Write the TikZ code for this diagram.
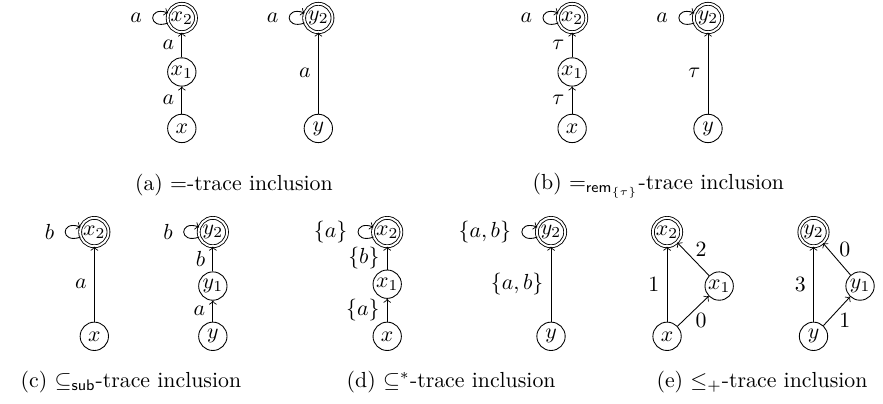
\documentclass[tikz,border=0pt]{standalone}
\usepackage{amsmath,amssymb}
\begin{document}
\begin{tikzpicture}[
  state/.style={circle,draw,inner sep=0pt,minimum size=13pt},
  final/.style={state,double,double distance=0.9pt},
  selfloop/.style={out=200,in=160,min distance=3.5mm,looseness=1},
  looplabel/.style={left=1.5pt}]
\useasboundingbox (0,0) rectangle (14.23,6.50);

% (a)
\node[final] (ax2) at (2.93,6.21) {$x_2$};
\node[state] (ax1) at (2.93,5.34) {$x_1$};
\node[state] (ax) at (2.93,4.43) {$x$};
\node[final] (ay2) at (5.13,6.21) {$y_2$};
\node[state] (ay) at (5.13,4.43) {$y$};
\path[->] (ax) edge node[left] {$a$} (ax1)
  (ax1) edge node[left] {$a$} (ax2)
  (ax2) edge[selfloop] node[looplabel] {$a$} (ax2)
  (ay) edge node[left] {$a$} (ay2)
  (ay2) edge[selfloop] node[looplabel] {$a$} (ay2);
\node (capa) at (3.77,3.51) {(a) $=$-trace inclusion};

% (b)
\node[final] (bx2) at (9.22,6.21) {$x_2$};
\node[state] (bx1) at (9.22,5.34) {$x_1$};
\node[state] (bx) at (9.22,4.43) {$x$};
\node[final] (by2) at (11.41,6.21) {$y_2$};
\node[state] (by) at (11.41,4.43) {$y$};
\path[->] (bx) edge node[left] {$\tau$} (bx1)
  (bx1) edge node[left] {$\tau$} (bx2)
  (bx2) edge[selfloop] node[looplabel] {$a$} (bx2)
  (by) edge node[left] {$\tau$} (by2)
  (by2) edge[selfloop] node[looplabel] {$a$} (by2);
\node (capb) at (10.61,3.51) {(b) $=_{\mathsf{rem}_{\{\tau\}}}$-trace inclusion};

% (c)
\node[final] (cx2) at (1.52,2.76) {$x_2$};
\node[state] (cx) at (1.52,1.08) {$x$};
\node[final] (cy2) at (3.43,2.76) {$y_2$};
\node[state] (cy1) at (3.43,1.89) {$y_1$};
\node[state] (cy) at (3.43,1.08) {$y$};
\path[->] (cx) edge node[left] {$a$} (cx2)
  (cx2) edge[selfloop] node[looplabel] {$b$} (cx2)
  (cy) edge node[left] {$a$} (cy1)
  (cy1) edge node[left] {$b$} (cy2)
  (cy2) edge[selfloop] node[looplabel] {$b$} (cy2);
\node (capc) at (2.11,0.34) {(c) $\subseteq_{\mathsf{sub}}$-trace inclusion};

% (d)
\node[final] (dx2) at (6.24,2.76) {$x_2$};
\node[state] (dx1) at (6.24,1.92) {$x_1$};
\node[state] (dx) at (6.24,1.08) {$x$};
\node[final] (dy2) at (8.88,2.76) {$y_2$};
\node[state] (dy) at (8.88,1.08) {$y$};
\path[->] (dx) edge node[left] {$\{a\}$} (dx1)
  (dx1) edge node[left] {$\{b\}$} (dx2)
  (dx2) edge[selfloop] node[looplabel] {$\{a\}$} (dx2)
  (dy) edge node[left] {$\{a,b\}$} (dy2)
  (dy2) edge[selfloop] node[looplabel] {$\{a,b\}$} (dy2);
\node (capd) at (7.27,0.34) {(d) $\subseteq^*$-trace inclusion};

% (e)
\node[final] (ex2) at (10.75,2.76) {$x_2$};
\node[state] (ex1) at (11.59,1.89) {$x_1$};
\node[state] (ex) at (10.75,1.08) {$x$};
\node[final] (ey2) at (13.11,2.76) {$y_2$};
\node[state] (ey1) at (13.86,1.89) {$y_1$};
\node[state] (ey) at (13.11,1.08) {$y$};
\path[->] (ex) edge node[left] {$1$} (ex2)
  (ex) edge node[below right,inner sep=1pt] {$0$} (ex1)
  (ex1) edge node[above right,inner sep=1pt] {$2$} (ex2)
  (ey) edge node[left] {$3$} (ey2)
  (ey) edge node[below right,inner sep=1pt] {$1$} (ey1)
  (ey1) edge node[above right,inner sep=1pt] {$0$} (ey2);
\node (cape) at (12.28,0.34) {(e) $\leq_+$-trace inclusion};
\end{tikzpicture}
\end{document}
